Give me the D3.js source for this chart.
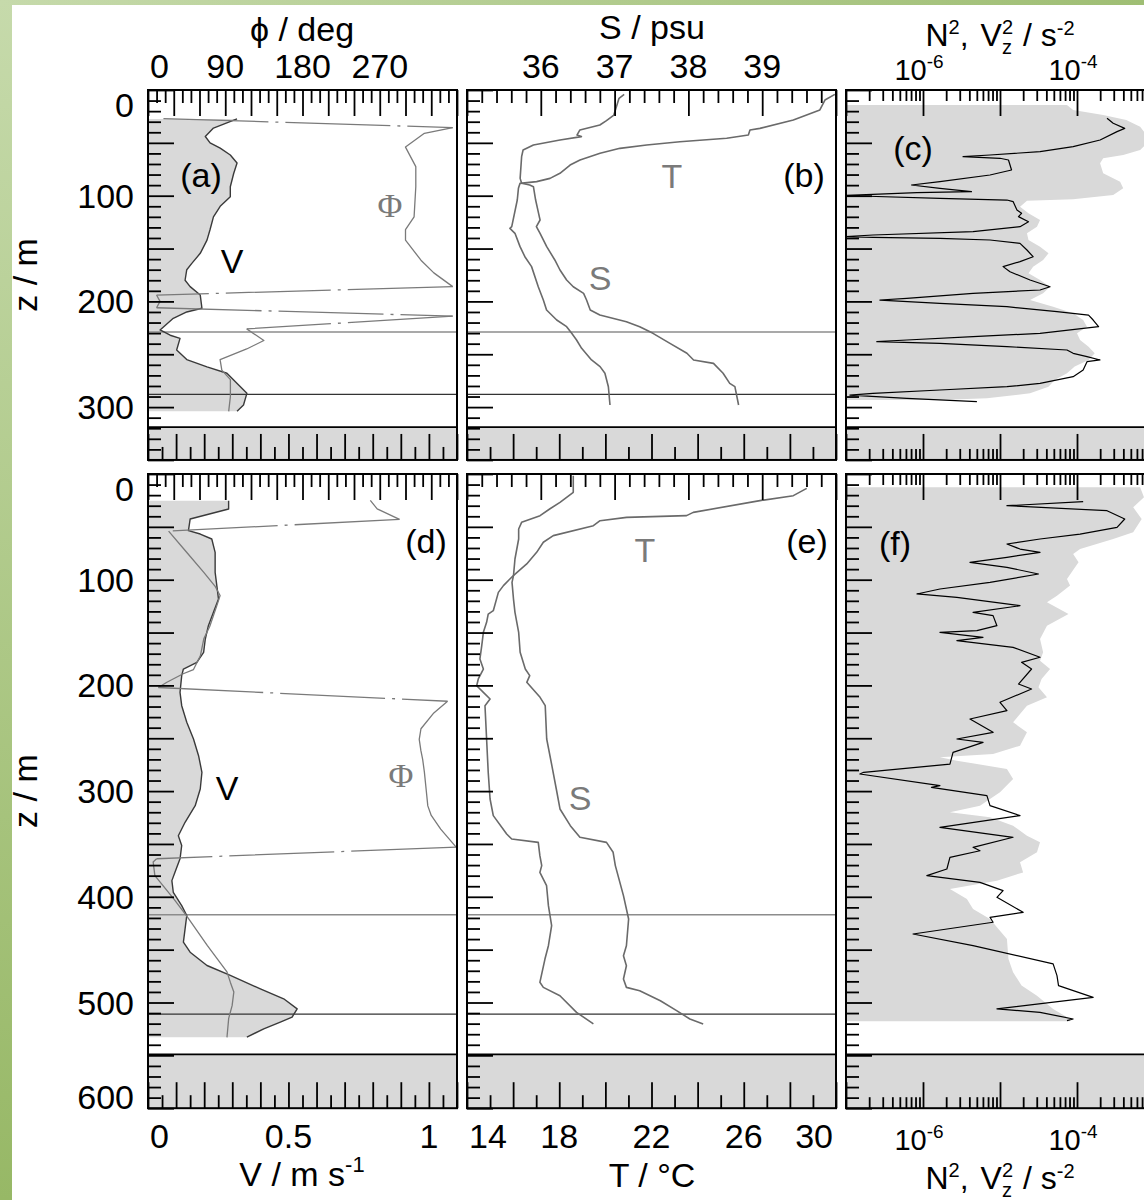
<!DOCTYPE html>
<html>
<head>
<meta charset="utf-8">
<script src="https://cdn.jsdelivr.net/npm/d3@7"></script>
<style>
  body { margin: 0; background: #fff; }
  svg { display: block; font-family: "Liberation Sans", Arial, sans-serif; }
</style>
</head>
<body>
<svg id="fig" width="1144" height="1200"></svg>
<script>
// ---------------- data (depth in m, then value) ----------------
var depthLabelsTop = [0, 100, 200, 300];
var depthLabelsBottom = [0, 100, 200, 300, 400, 500, 600];
var phiLabels = [0, 90, 180, 270];
var vLabels = [0, 0.5, 1];
var sLabels = [36, 37, 38, 39];
var tLabels = [14, 18, 22, 26, 30];
var n2Labels = [-6, -4];            // decade exponents
var seafloorDepth = [319, 549];     // grey band, top row / bottom row
var refLinesTop = [229, 288];
var refLinesBottom = [417, 511];

// (a) current speed V and direction phi
var vA = [[27.4,0.317],[36,0.233],[44,0.204],[50,0.221],[55,0.257],[61.5,0.293],[69,0.317],[79,0.305],[91.5,0.293],[101,0.293],[110,0.257],[120,0.233],[132,0.221],[142,0.21],[154.5,0.186],[164,0.156],[170,0.138],[180,0.132],[186,0.15],[194,0.186],[206.5,0.192],[210,0.138],[216,0.09],[227,0.043],[232,0.079],[235,0.114],[246,0.102],[255,0.138],[262,0.21],[268,0.281],[287,0.352],[298,0.34],[304,0.317]];
var phiA = [[27,18],[35.6,355],[41,322],[54,300],[72.5,312],[91.5,312],[120,310],[132,300],[142,300],[161,318],[173,333],[186,355],[194,10],[200,14],[206,10],[214,355],[226,115],[237,135],[245,115],[255,84],[265,86],[274,96],[290,96],[304,94]];

// (b) temperature and salinity
var tB = [[4.1,29.95],[9.5,29.52],[18.9,29.3],[28.4,28.15],[36.3,26.7],[37.8,26.27],[42.6,26.2],[45.7,25.26],[48.9,23.23],[52,21.79],[55.2,20.63],[59.9,19.77],[66.2,18.9],[71,18.47],[78.8,18.03],[83.6,17.6],[86.7,17.02],[88.3,16.3],[93,16.23],[104.1,16.18],[129.3,15.94],[130.9,15.86],[135.6,16.08],[148.2,16.3],[157.7,16.51],[167.1,16.8],[186.1,17.09],[198.7,17.31],[208.1,17.45],[217.6,17.89],[223.9,18.32],[230.2,18.54],[236.5,18.75],[244.4,18.97],[255.4,19.4],[261.7,19.77],[268,19.98],[280.7,20.13],[298,20.2]];
var sB = [[4.1,37.13],[7.9,37.06],[23.7,36.99],[29,36.89],[33.1,36.8],[37.8,36.53],[42.6,36.49],[44.1,36.55],[47.3,36.26],[52,35.9],[56.8,35.76],[63.1,35.74],[83.6,35.72],[88.3,35.74],[89.9,35.85],[91.5,35.9],[104.1,35.93],[116.7,35.97],[123,35.99],[129.3,35.94],[135.6,35.99],[148.2,36.08],[160.8,36.19],[170.3,36.26],[179.8,36.35],[186.1,36.44],[192.4,36.58],[198.7,36.62],[208.1,36.67],[212.9,36.8],[219.2,37.16],[223.9,37.34],[230.2,37.52],[239.7,37.75],[249.1,37.98],[255.4,38.07],[258.6,38.34],[268,38.47],[277.5,38.56],[280.7,38.63],[298,38.68]];

// (c) log10 of N^2 (line) and Vz^2 (shaded)
var n2C = [[26.8,-3.61],[31.5,-3.53],[36.3,-3.38],[39.4,-3.48],[47.3,-3.7],[53.6,-4.05],[58.3,-4.48],[61.5,-5.13],[63.1,-5.48],[64.6,-5],[66.2,-4.89],[75.7,-4.85],[80.4,-5.13],[86.7,-5.78],[89.9,-6.15],[93,-5.78],[96.2,-5.37],[97.1,-6.08],[99.3,-6.82],[99.6,-7],[100.3,-6.82],[102.5,-5.78],[104.1,-4.91],[105.6,-4.83],[113.5,-4.78],[116.7,-4.72],[119.8,-4.76],[124.6,-4.63],[129.3,-4.74],[134,-5.35],[137.2,-6.65],[138.8,-7],[139.4,-6.65],[140.3,-5.78],[141.9,-5.13],[145.1,-4.74],[151.4,-4.65],[157.7,-4.57],[162.4,-4.74],[167.1,-4.96],[171.9,-4.87],[179.8,-4.61],[186.1,-4.35],[189.2,-4.48],[192.4,-5.35],[197.1,-6.21],[198.7,-6.56],[201.8,-5.78],[205,-4.91],[209.7,-4.26],[212.9,-3.85],[217.6,-3.79],[223.9,-3.72],[230.2,-4.48],[233.4,-5.35],[236.5,-6.21],[238.1,-6.6],[239.7,-5.78],[242.8,-4.91],[246,-4.13],[249.1,-4.05],[252.3,-3.87],[255.4,-3.7],[257,-3.87],[264.9,-3.92],[271.2,-4.05],[277.5,-4.48],[280.7,-4.91],[283.8,-5.78],[287,-6.65],[288.6,-6.95],[291.7,-6.21],[294.9,-5.3]];
var vz2C = [[14.2,-4.13],[18.9,-4.05],[23.7,-3.66],[28.4,-3.36],[34.7,-3.18],[47.3,-3.05],[56.8,-3.18],[61.5,-3.4],[64.6,-3.66],[69.4,-3.7],[78.8,-3.66],[86.7,-3.44],[93,-3.4],[99.3,-3.53],[103.4,-4.05],[104.7,-4.65],[110.4,-4.74],[116.7,-4.63],[123,-4.48],[129.3,-4.52],[135.6,-4.65],[141.9,-4.63],[148.2,-4.48],[154.5,-4.37],[160.8,-4.44],[167.1,-4.57],[173.4,-4.63],[179.8,-4.48],[186.1,-4.35],[192.4,-4.44],[198.7,-4.61],[205,-4.31],[211.3,-4.05],[217.6,-3.92],[223.9,-3.87],[230.2,-4],[236.5,-3.96],[242.8,-3.85],[249.1,-3.77],[255.4,-3.85],[261.7,-4.03],[268,-4.13],[274.4,-4.29],[280.7,-4.37],[287,-4.61],[291.7,-5.17],[293.3,-5.78]];

// (d) current speed V and direction phi
var vD = [[25.2,0.287],[33.1,0.287],[42.6,0.15],[53.6,0.144],[56.8,0.186],[61.5,0.227],[74.1,0.239],[93,0.239],[105.6,0.245],[118.3,0.251],[130.9,0.233],[143.5,0.215],[156.1,0.204],[168.7,0.198],[178.2,0.174],[184.5,0.126],[190.8,0.12],[206.6,0.114],[219.2,0.12],[234.9,0.138],[250.7,0.162],[266.5,0.18],[282.2,0.192],[298,0.186],[313.8,0.168],[329.5,0.132],[342.2,0.108],[351.5,0.12],[364.1,0.114],[376.7,0.096],[384.7,0.085],[395.7,0.09],[408.3,0.12],[417.7,0.138],[430.3,0.132],[442.9,0.126],[452.4,0.15],[465,0.21],[474.4,0.293],[487.1,0.4],[496.5,0.483],[506,0.531],[513.9,0.513],[518.6,0.471],[524.9,0.412],[532.8,0.352]];
var phiD = [[25,259],[33,267],[43,293],[54,24],[74,45],[93,65],[106,78],[115,84],[125,80],[144,72],[156,65],[172,61],[185,53],[189,41],[197,22],[202,12],[215,349],[226,333],[241,318],[251,316],[262,318],[270,320],[282,322],[298,324],[314,326],[323,330],[336,341],[353,359],[364,10],[367,6],[380,8],[402,30],[418,45],[446,69],[471,92],[481,96],[490,100],[503,98],[515,94],[533,92]];

// (e) temperature and salinity
var tE = [[13.6,28.73],[20.5,28.15],[25.2,26.7],[36.3,23.81],[39.4,23.52],[41,20.92],[44.2,19.77],[48.9,19.48],[58.3,17.74],[64.6,17.31],[74.1,17.02],[85.1,16.59],[96.2,16.01],[99.3,15.86],[105.6,15.58],[112,15.36],[129.3,15.14],[132.5,14.92],[140.3,14.85],[149.8,14.71],[162.4,14.64],[175,14.56],[184.5,14.71],[193.9,14.49],[200.3,14.42],[206.6,14.71],[212.9,15],[219.2,14.78],[250.7,14.85],[282.2,14.92],[307.5,15],[323.2,15.14],[340.6,15.72],[345.3,15.94],[348.5,17.09],[361.1,17.16],[370.5,17.24],[376.9,17.16],[389.5,17.45],[408.4,17.53],[427.3,17.67],[446.3,17.53],[458.9,17.38],[480.9,17.16],[485.7,17.31],[493.6,18.03],[509.3,18.75],[520.3,19.48]];
var sE = [[1.6,36.44],[17.3,36.44],[22.1,36.35],[26.8,36.26],[33.1,36.12],[39.4,35.99],[45.7,35.74],[52,35.7],[61.5,35.7],[80.4,35.65],[96.2,35.63],[102.5,35.61],[118.3,35.63],[130.9,35.65],[149.8,35.7],[168.7,35.72],[184.5,35.79],[190.8,35.85],[197.1,35.81],[211.3,35.99],[219.2,36.06],[250.7,36.08],[275.9,36.15],[298,36.21],[316.9,36.26],[332.7,36.4],[343.7,36.53],[348.5,36.89],[357.9,36.98],[370.5,37.01],[398.9,37.12],[421,37.19],[446.3,37.16],[455.7,37.12],[465.2,37.16],[477.8,37.12],[485.7,37.16],[488.9,37.34],[498.3,37.62],[507.7,37.84],[515.6,38.02],[520.3,38.2]];

// (f) log10 of N^2 (line) and Vz^2 (shaded)
var n2F = [[26.2,-3.92],[30,-4.91],[34.7,-3.61],[42.6,-3.38],[50.5,-3.48],[56.8,-3.96],[61.5,-4.48],[66.2,-4.91],[71,-4.74],[74.1,-4.48],[78.8,-4.91],[83.6,-5.39],[88.3,-4.91],[94.6,-4.5],[102.5,-5.13],[108.8,-5.78],[113.5,-6.08],[116.7,-5.56],[124.6,-4.74],[130.9,-5.35],[134,-5.09],[143.5,-5.04],[148.2,-5.3],[149.8,-5.78],[154.5,-5.22],[157.7,-5.56],[164,-4.83],[173.4,-4.48],[178.2,-4.72],[184.5,-4.59],[198.7,-4.76],[203.4,-4.59],[216,-5],[223.9,-4.91],[231.8,-5.39],[244.4,-5.09],[250.7,-5.56],[253.9,-5.22],[263.3,-5.61],[274.4,-5.65],[282.2,-6.77],[283.8,-6.82],[294.9,-5.78],[296.4,-5.89],[304.3,-5.17],[313.8,-5.13],[323.2,-4.74],[334.3,-5.78],[343.7,-4.83],[353.2,-5.35],[356.4,-5.26],[362.7,-5.65],[373.7,-5.69],[380,-5.95],[386.3,-5.26],[394.2,-4.96],[400.5,-5.04],[414.7,-4.7],[419.4,-5.13],[424.1,-5.09],[435.2,-6.13],[446.2,-5.35],[463.5,-4.31],[474.6,-4.26],[484,-4.24],[495.1,-3.79],[506.1,-5.04],[509.3,-4.48],[515.6,-4.05],[517.2,-4.13]];
var vz2F = [[12.6,-3.18],[22.1,-3.13],[31.5,-3.27],[42.6,-3.16],[55.2,-3.27],[61.5,-3.53],[71,-3.96],[75.7,-4.05],[83.6,-3.98],[93,-4.07],[99.3,-4.13],[105.6,-4.09],[115.1,-4.26],[121.4,-4.39],[132.5,-4.11],[143.5,-4.39],[156.1,-4.48],[168.7,-4.44],[176.6,-4.48],[184.5,-4.35],[193.9,-4.46],[201.8,-4.5],[211.3,-4.39],[219.2,-4.65],[227.1,-4.74],[234.9,-4.83],[244.4,-4.65],[257,-4.74],[264.9,-5.09],[268,-5.78],[271.2,-5.56],[279.1,-4.91],[288.5,-4.83],[301.2,-5],[313.8,-5.26],[320.1,-5.65],[324.8,-5.13],[332.7,-4.83],[342.2,-4.65],[348.5,-4.48],[357.9,-4.52],[367.4,-4.74],[376.9,-4.7],[384.7,-5.04],[392.6,-5.65],[402,-5.43],[411.5,-5.35],[421,-5.13],[439.9,-4.91],[458.8,-4.89],[471.4,-4.83],[484,-4.72],[493.5,-4.52],[506.1,-4.31],[515.6,-4.09],[517.8,-4.09]];

// ---------------- layout ----------------
var svg = d3.select("#fig");
var defs = svg.append("defs");
var K = 1.057; // px per metre of depth
var cols = [{x: 148, w: 309}, {x: 467, w: 369}, {x: 846, w: 308}];
var rows = [{y: 90, max: 350}, {y: 474, max: 600}];
var FILL = "#d9d9d9";
var CURVE = "#6a6a6a";

// page background with the green strips
var gl = defs.append("linearGradient").attr("id", "gl").attr("x1", 0).attr("y1", 0).attr("x2", 0).attr("y2", 1);
gl.append("stop").attr("offset", 0).attr("stop-color", "#c6daab");
gl.append("stop").attr("offset", 1).attr("stop-color", "#97b866");
var gt = defs.append("linearGradient").attr("id", "gt").attr("x1", 0).attr("y1", 0).attr("x2", 1).attr("y2", 0);
gt.append("stop").attr("offset", 0).attr("stop-color", "#c6daab");
gt.append("stop").attr("offset", 1).attr("stop-color", "#9fbe74");
svg.append("rect").attr("width", 1144).attr("height", 1200).attr("fill", "#fff");
svg.append("rect").attr("width", 12).attr("height", 1200).attr("fill", "url(#gl)");
svg.append("rect").attr("width", 1144).attr("height", 5).attr("fill", "url(#gt)");

function panel(ri, ci, xs) {
  var r = rows[ri], c = cols[ci];
  var x = xs.copy().range([c.x, c.x + c.w]);
  var y = d3.scaleLinear().domain([0, r.max]).range([r.y, r.y + r.max * K]);
  var id = "clip" + ri + ci;
  defs.append("clipPath").attr("id", id).append("rect")
    .attr("x", c.x).attr("y", r.y).attr("width", c.w).attr("height", r.max * K);
  var g = svg.append("g");
  var inner = g.append("g").attr("clip-path", "url(#" + id + ")");
  inner.append("rect").attr("x", c.x).attr("y", r.y).attr("width", c.w).attr("height", r.max * K).attr("fill", "#fff");
  return {g: g, inner: inner, x: x, y: y, x0: c.x, x1: c.x + c.w, y0: r.y, y1: r.y + r.max * K, max: r.max, ri: ri};
}

function ident(v) { return v; }
function pow10(v) { return Math.pow(10, v); }

function shade(p, data, xf) {
  p.inner.append("path").datum(data)
    .attr("d", d3.area()
      .y(function(d) { return p.y(d[0]); })
      .x0(p.x0)
      .x1(function(d) { return p.x(xf(d[1])); }))
    .attr("fill", FILL);
}

function curve(p, data, xf, color, w, dash) {
  p.inner.append("path").datum(data)
    .attr("d", d3.line()
      .x(function(d) { return p.x(xf(d[1])); })
      .y(function(d) { return p.y(d[0]); }))
    .attr("fill", "none").attr("stroke", color).attr("stroke-width", w)
    .attr("stroke-linejoin", "round")
    .attr("stroke-dasharray", dash || null);
}

// direction: solid runs, wrap-around jumps drawn dash-dot
function phiCurve(p, data) {
  var runs = [[data[0]]];
  for (var i = 1; i < data.length; i++) {
    if (Math.abs(data[i][1] - data[i - 1][1]) > 180) {
      curve(p, [data[i - 1], data[i]], ident, "#7a7a7a", 1.3, "105,7,3,7");
      runs.push([data[i]]);
    } else {
      runs[runs.length - 1].push(data[i]);
    }
  }
  runs.forEach(function(r) { if (r.length > 1) curve(p, r, ident, "#7a7a7a", 1.3); });
}

function refLines(p, depths) {
  var colors = ["#8c8c8c", "#333"];
  depths.forEach(function(d, i) {
    p.inner.append("line").attr("x1", p.x0).attr("x2", p.x1)
      .attr("y1", p.y(d)).attr("y2", p.y(d))
      .attr("stroke", colors[i]).attr("stroke-width", i ? 1.2 : 1.6);
  });
}

function tickSet(p, axisFn, scale, values, len, tx, ty) {
  p.g.append("g").attr("transform", "translate(" + tx + "," + ty + ")")
    .call(axisFn(scale).tickValues(values).tickSize(-len).tickFormat(""))
    .call(function(s) {
      s.select(".domain").remove();
      s.selectAll("line").attr("stroke", "#000").attr("stroke-width", 1.8);
    });
}

// seafloor band, ticks on all four sides and the frame
function finish(p, topScale, topMajor, topMinor, botScale, botMajor, botMinor, minorLen) {
  var sf = seafloorDepth[p.ri];
  p.inner.append("rect").attr("x", p.x0).attr("y", p.y(sf))
    .attr("width", p.x1 - p.x0).attr("height", p.y1 - p.y(sf)).attr("fill", FILL);
  p.inner.append("line").attr("x1", p.x0).attr("x2", p.x1)
    .attr("y1", p.y(sf)).attr("y2", p.y(sf)).attr("stroke", "#000").attr("stroke-width", 1.8);
  var dMaj = d3.range(0, p.max + 1, 50);
  var dMin = d3.range(0, p.max + 1, 10).filter(function(v) { return v % 50; });
  tickSet(p, d3.axisLeft, p.y, dMaj, 26, p.x0, 0);
  tickSet(p, d3.axisLeft, p.y, dMin, 13, p.x0, 0);
  tickSet(p, d3.axisTop, topScale, topMajor, 26, 0, p.y0);
  tickSet(p, d3.axisTop, topScale, topMinor, minorLen, 0, p.y0);
  tickSet(p, d3.axisBottom, botScale, botMajor, 26, 0, p.y1);
  tickSet(p, d3.axisBottom, botScale, botMinor, minorLen, 0, p.y1);
  p.g.append("rect").attr("x", p.x0).attr("y", p.y0)
    .attr("width", p.x1 - p.x0).attr("height", p.y1 - p.y0)
    .attr("fill", "none").attr("stroke", "#000").attr("stroke-width", 2);
}

function txt(x, y, s, anchor, opts) {
  opts = opts || {};
  return svg.append("text").attr("x", x).attr("y", y).attr("text-anchor", anchor || "middle")
    .style("font-size", (opts.size || 34) + "px")
    .style("font-family", opts.family || null)
    .attr("fill", opts.color || "#000").text(s);
}

function sup(t, s, size, dy) {
  t.append("tspan").attr("dy", dy || -14).style("font-size", (size || 22) + "px").text(s);
}

function n2Title(x, yb) {
  var t = svg.append("text").attr("x", x).attr("y", yb).attr("text-anchor", "middle").style("font-size", "32px");
  t.append("tspan").text("N");
  t.append("tspan").attr("dy", -12).style("font-size", "20px").text("2");
  t.append("tspan").attr("dy", 12).text(",");
  t.append("tspan").attr("dx", 12).text("V");
  t.append("tspan").attr("dy", -12).style("font-size", "20px").text("2");
  t.append("tspan").attr("dx", -11).attr("dy", 20).style("font-size", "20px").text("z");
  t.append("tspan").attr("dx", 2).attr("dy", -8).text(" / s");
  t.append("tspan").attr("dy", -11).style("font-size", "20px").text("-2");
}

function decadeLabel(x, yb, e) {
  var t = txt(x - 4, yb, "10", "middle", {size: 29});
  sup(t, "-" + Math.abs(e), 19, -12);
}

// tick sets
var phiMajor = d3.range(0, 361, 30);
var phiMinor = d3.range(0, 361, 10).filter(function(v) { return v % 30; });
var vMajor = d3.range(0, 12).map(function(i) { return i / 10; });
var vMinor = d3.range(0, 11).map(function(i) { return i / 10 + 0.05; });
var sMajor = d3.range(35, 41);
var sMinor = d3.range(0, 26).map(function(i) { return 35 + i * 0.2; }).filter(function(v) { return Math.abs(v - Math.round(v)) > 0.01; });
var tMajor = d3.range(14, 31, 2);
var tMinor = d3.range(15, 30, 2);
var logMajor = d3.range(-7, -2).map(pow10);
var logMinor = [];
d3.range(-7, -3).forEach(function(e) { d3.range(2, 10).forEach(function(m) { logMinor.push(m * Math.pow(10, e)); }); });

var xPhi = d3.scaleLinear().domain([0, 360]);
var xV = d3.scaleLinear().domain([0, 1.1]);
var xS = d3.scaleLinear().domain([35, 40]);
var xT = d3.scaleLinear().domain([14, 30]);
var xN = d3.scaleLog().domain([1e-7, 1e-3]);

// ---------------- panels ----------------
[0, 1].forEach(function(ri) {
  var vData = ri ? vD : vA, phiData = ri ? phiD : phiA;
  var tData = ri ? tE : tB, sData = ri ? sE : sB;
  var nData = ri ? n2F : n2C, shData = ri ? vz2F : vz2C;
  var refs = ri ? refLinesBottom : refLinesTop;

  // speed / direction
  var pa = panel(ri, 0, xV);
  var pPhi = {inner: pa.inner, x: xPhi.copy().range([pa.x0, pa.x1]), y: pa.y};
  shade(pa, vData, ident);
  refLines(pa, refs);
  curve(pa, vData, ident, "#3a3a3a", 1.4);
  phiCurve(pPhi, phiData);
  finish(pa, pPhi.x, phiMajor, phiMinor, pa.x, vMajor, vMinor, 13);

  // temperature / salinity
  var pb = panel(ri, 1, xT);
  var pS = {inner: pb.inner, x: xS.copy().range([pb.x0, pb.x1]), y: pb.y};
  refLines(pb, refs);
  curve(pb, tData, ident, CURVE, 1.6);
  curve(pS, sData, ident, CURVE, 1.6);
  finish(pb, pS.x, sMajor, sMinor, pb.x, tMajor, tMinor, 13);

  // stratification / shear
  var pc = panel(ri, 2, xN);
  shade(pc, shData, pow10);
  curve(pc, nData, pow10, "#000", 1.2);
  finish(pc, pc.x, logMajor, logMinor, pc.x, logMajor, logMinor, 11);

  // depth labels and axis title
  var labs = ri ? depthLabelsBottom : depthLabelsTop;
  labs.forEach(function(d) {
    var yy = pa.y(d) + 12;
    if (d === 0) yy = pa.y0 + 27;
    else if (d === pa.max) yy = pa.y1 + 1;
    txt(134, yy, d, "end");
  });
  svg.append("text").attr("transform", "translate(37," + ((pa.y0 + pa.y1) / 2) + ") rotate(-90)")
    .attr("text-anchor", "middle").style("font-size", "34px").text("z / m");

  if (ri === 0) {
    phiLabels.forEach(function(v) {
      if (v === 0) txt(pa.x0 + 2, 78, v, "start"); else txt(pPhi.x(v), 78, v);
    });
    sLabels.forEach(function(v) { txt(pS.x(v), 78, v); });
    n2Labels.forEach(function(e) { decadeLabel(pc.x(pow10(e)), 80, e); });
    txt(302, 41, "\u03d5 / deg");
    txt(652, 39, "S / psu");
    n2Title(1000, 46);
  } else {
    vLabels.forEach(function(v) {
      if (v === 0) txt(pa.x0 + 2, 1148, v, "start"); else txt(pa.x(v), 1148, v);
    });
    tLabels.forEach(function(v, i) {
      if (i === 0) txt(pb.x0 + 2, 1148, v, "start");
      else if (i === tLabels.length - 1) txt(pb.x1 - 3, 1148, v, "end");
      else txt(pb.x(v), 1148, v);
    });
    n2Labels.forEach(function(e) { decadeLabel(pc.x(pow10(e)), 1150, e); });
    var tv = txt(302, 1186, "V / m s"); sup(tv, "-1");
    txt(652, 1187, "T / \u00b0C");
    n2Title(1000, 1189);
  }
});

// panel annotations
var grey = "#7a7a7a";
txt(201, 187, "(a)");
txt(232, 273, "V");
txt(390, 217, "\u03a6", "middle", {color: grey, family: "Liberation Serif, serif"});
txt(804, 187, "(b)");
txt(672, 188, "T", "middle", {color: grey});
txt(600, 290, "S", "middle", {color: grey});
txt(913, 160, "(c)");
txt(426, 553, "(d)");
txt(227, 800, "V");
txt(401, 787, "\u03a6", "middle", {color: grey, family: "Liberation Serif, serif"});
txt(807, 553, "(e)");
txt(645, 562, "T", "middle", {color: grey});
txt(580, 810, "S", "middle", {color: grey});
txt(895, 555, "(f)");
</script>
</body>
</html>
